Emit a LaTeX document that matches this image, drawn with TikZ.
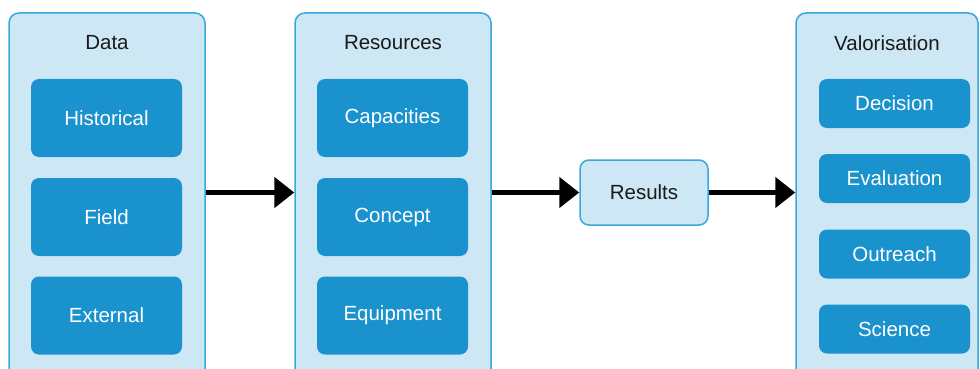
\documentclass[tikz,border=0pt]{standalone}
\usepackage{fontspec}
\setmainfont{Liberation Sans}
\usetikzlibrary{arrows.meta}
\definecolor{outerfill}{HTML}{CDE7F5}
\definecolor{outerline}{HTML}{38A8DE}
\definecolor{innerfill}{HTML}{1A92CE}
\definecolor{titletext}{HTML}{1A1A1A}
\tikzset{
  outerbox/.style={draw=outerline, fill=outerfill, line width=1.5pt, rounded corners=10pt, inner sep=0pt},
  innerbox/.style={fill=innerfill, rounded corners=8pt, text=white, font=\fontsize{20.5}{24}\selectfont, minimum width=151pt, inner sep=0pt},
  titlelabel/.style={text=titletext, font=\fontsize{20.5}{24}\selectfont, inner sep=0pt},
  flowarrow/.style={line width=5pt, -{Triangle[length=20pt,width=30pt]}},
}
\begin{document}
\begin{tikzpicture}[x=1pt,y=-1pt]
\useasboundingbox (0,0) rectangle (980,369);
\fill[white] (0,0) rectangle (980,369);
\clip (0,0) rectangle (980,369);
% outer containers
\node[outerbox, minimum width=196pt, minimum height=380pt] (data) at (107,203) {};
\node[outerbox, minimum width=196pt, minimum height=380pt] (resources) at (393,203) {};
\node[outerbox, minimum width=182pt, minimum height=380pt] (valor) at (887,203) {};
% titles
\node[titlelabel] (datat) at (107,43) {Data};
\node[titlelabel] (rest) at (393,43) {Resources};
\node[titlelabel] (valt) at (887,43) {Valorisation};
% data items
\node[innerbox, minimum height=78pt] (hist) at (106.5,118) {Historical};
\node[innerbox, minimum height=78pt] (field) at (106.5,217) {Field};
\node[innerbox, minimum height=78pt] (ext) at (106.5,315.5) {External};
% resources items
\node[innerbox, minimum height=78pt] (cap) at (392.5,118) {Capacities};
\node[innerbox, minimum height=78pt] (conc) at (392.5,217) {Concept};
\node[innerbox, minimum height=78pt] (equip) at (392.5,315.5) {Equipment};
% valorisation items
\node[innerbox, minimum height=49pt] (dec) at (894.5,103.5) {Decision};
\node[innerbox, minimum height=49pt] (eval) at (894.5,178.5) {Evaluation};
\node[innerbox, minimum height=49pt] (outr) at (894.5,254) {Outreach};
\node[innerbox, minimum height=49pt] (sci) at (894.5,329) {Science};
% results
\node[draw=outerline, fill=outerfill, line width=1.5pt, rounded corners=9pt, minimum width=128pt, minimum height=65pt, inner sep=0pt, text=titletext, font=\fontsize{20.5}{24}\selectfont] (results) at (644,192.5) {Results};
% arrows
\draw[flowarrow] (data.east |- results.west) -- (resources.west |- results.west);
\draw[flowarrow] (resources.east |- results.west) -- (results.west);
\draw[flowarrow] (results.east) -- (valor.west |- results.east);
\end{tikzpicture}
\end{document}
